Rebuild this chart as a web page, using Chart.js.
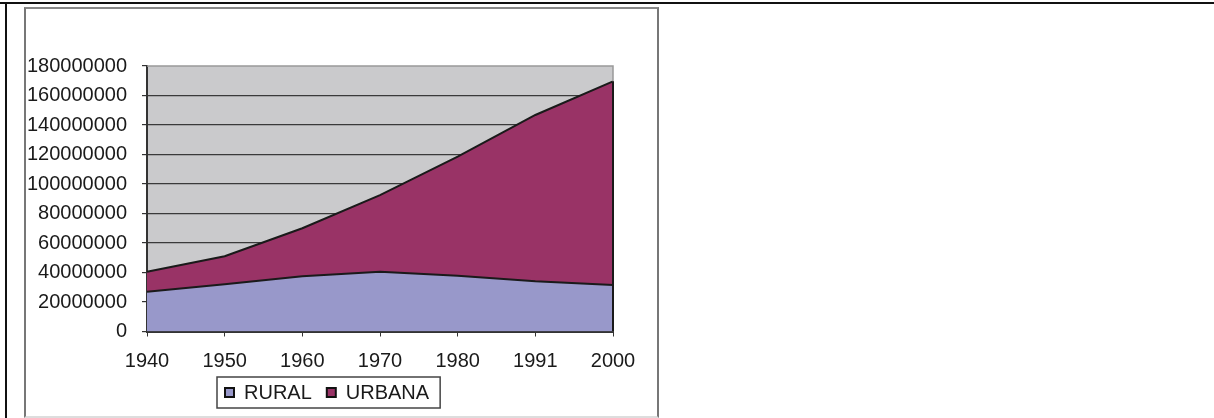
<!DOCTYPE html>
<html>
<head>
<meta charset="utf-8">
<script src="https://cdn.jsdelivr.net/npm/chart.js@4.4.1/dist/chart.umd.min.js"></script>
<style>
  html, body { margin: 0; padding: 0; background: #fff; width: 1214px; height: 418px; overflow: hidden; }
  #outerTop { position: absolute; left: 0; top: 2px; width: 1214px; height: 2px; background: #111; }
  #outerLeft { position: absolute; left: 5px; top: 2px; width: 2px; height: 416px; background: #111; }
  #frame { position: absolute; left: 24px; top: 7px; width: 631px; height: 407px;
           border-left: 2px solid #777; border-top: 2px solid #888; border-right: 2px solid #777; border-bottom: 2px solid #ddd; }
  #wrap { position: absolute; left: 0; top: 0; width: 1214px; height: 418px; }
</style>
</head>
<body>
<div id="outerTop"></div>
<div id="outerLeft"></div>
<div id="frame"></div>
<div id="wrap"><canvas id="c" width="1214" height="418"></canvas></div>
<script>
const categories = ['1940', '1950', '1960', '1970', '1980', '1991', '2000'];
const ruralValues = [27000000, 32000000, 37500000, 40500000, 37800000, 34000000, 31500000];
const urbanValues = [13500000, 19000000, 32500000, 52000000, 80700000, 112800000, 138100000];
const seriesNames = ['RURAL', 'URBANA'];
const seriesColors = ['#9898CA', '#993366'];
const yTicks = [0, 20000000, 40000000, 60000000, 80000000, 100000000, 120000000, 140000000, 160000000, 180000000];

const FONT = '"Liberation Sans", Arial, sans-serif';
const FS = 20;

const plotBg = {
  id: 'plotBg',
  beforeDraw(chart) {
    const { ctx, chartArea: a } = chart;
    ctx.save();
    ctx.fillStyle = '#CACACC';
    ctx.fillRect(a.left, a.top, a.right - a.left, a.bottom - a.top);
    ctx.restore();
  },
  afterDatasetsDraw(chart) {
    const { ctx, chartArea: a, scales } = chart;
    ctx.save();
    ctx.strokeStyle = '#999';
    ctx.lineWidth = 1.5;
    ctx.beginPath();
    ctx.moveTo(a.left, a.top);
    ctx.lineTo(a.right, a.top);
    ctx.lineTo(a.right, a.bottom);
    ctx.stroke();
    const last = categories.length - 1;
    const total = ruralValues[last] + urbanValues[last];
    ctx.strokeStyle = '#1a1a1a';
    ctx.lineWidth = 2;
    ctx.beginPath();
    ctx.moveTo(a.right, scales.y.getPixelForValue(total));
    ctx.lineTo(a.right, a.bottom);
    ctx.stroke();
    ctx.restore();
  },
  afterDraw(chart) {
    const { ctx, chartArea: a } = chart;
    ctx.save();
    ctx.font = FS + 'px ' + FONT;
    const boxLeft = a.left + 70, boxTop = 377, boxH = 31;
    const padL = 8, padR = 11, marker = 9, gapText = 10, gapItem = 15;
    let x = boxLeft + padL;
    const cy = boxTop + boxH / 2;
    const items = [];
    seriesNames.forEach((n, i) => {
      items.push({ x, n, i });
      x += marker + gapText + ctx.measureText(n).width + gapItem;
    });
    const boxW = x - gapItem + padR - boxLeft;
    ctx.strokeStyle = '#444';
    ctx.lineWidth = 1.5;
    ctx.strokeRect(boxLeft, boxTop, boxW, boxH);
    items.forEach(it => {
      ctx.fillStyle = seriesColors[it.i];
      ctx.fillRect(it.x, cy - marker / 2, marker, marker);
      ctx.strokeStyle = '#111';
      ctx.lineWidth = 2;
      ctx.strokeRect(it.x, cy - marker / 2, marker, marker);
      ctx.fillStyle = '#1a1a1a';
      ctx.textBaseline = 'middle';
      ctx.textAlign = 'left';
      ctx.fillText(it.n, it.x + marker + gapText, cy + 1);
    });
    ctx.restore();
  }
};

new Chart(document.getElementById('c'), {
  type: 'line',
  data: {
    labels: categories,
    datasets: [
      { label: seriesNames[0], data: ruralValues, backgroundColor: seriesColors[0], borderColor: '#1a1a1a',
        borderWidth: 2, fill: 'origin', pointRadius: 0, tension: 0 },
      { label: seriesNames[1], data: urbanValues, backgroundColor: seriesColors[1], borderColor: '#1a1a1a',
        borderWidth: 2, fill: '-1', pointRadius: 0, tension: 0 }
    ]
  },
  options: {
    responsive: false,
    animation: false,
    devicePixelRatio: 1,
    layout: { padding: { left: 0, top: 66, right: 601, bottom: 0 } },
    plugins: { legend: { display: false }, tooltip: { enabled: false } },
    scales: {
      x: {
        offset: false,
        grid: { drawOnChartArea: false, drawTicks: true, tickLength: 5, tickColor: '#333' },
        border: { color: '#333', width: 2 },
        ticks: { color: '#1a1a1a', font: { family: FONT, size: FS }, padding: 13, maxRotation: 0, autoSkip: false },
        afterFit(s) { s.height = 86.5; }
      },
      y: {
        stacked: true,
        min: 0, max: 180000000,
        afterBuildTicks(s) { s.ticks = yTicks.map(v => ({ value: v })); },
        grid: { color: (c) => (c.tick && c.tick.value === 180000000) ? 'rgba(0,0,0,0)' : '#3a3a3a', lineWidth: 1.2,
                tickLength: 5, tickColor: '#333' },
        border: { color: '#333', width: 2 },
        ticks: { color: '#1a1a1a', font: { family: FONT, size: FS }, padding: 15, callback: (v) => String(v) },
        afterFit(s) { s.width = 147; }
      }
    }
  },
  plugins: [plotBg]
});
</script>
</body>
</html>
